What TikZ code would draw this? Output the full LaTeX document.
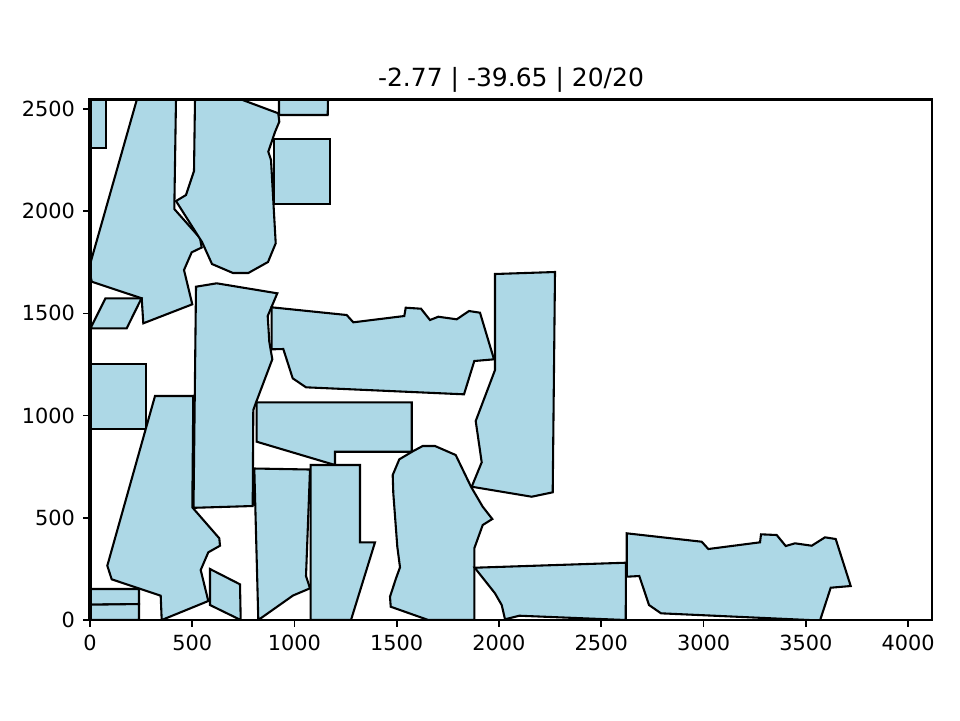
\documentclass[tikz,border=0pt]{standalone}
\usepackage{fontspec}
\setmainfont{DejaVu Sans}
\definecolor{lightblue}{RGB}{173,216,230}
\usepackage{tikz}
\usetikzlibrary{calc}

\begin{document}
\begin{tikzpicture}[
  x=0.48pt, y=-0.48pt,
  piece/.style={draw=black, fill=lightblue, line width=1pt, line join=miter},
  spine/.style={draw=black, line width=0.8pt},
  edge/.style={draw=black, line width=1.6pt},
  tick/.style={draw=black, line width=0.8pt},
  ticklbl/.style={font=\fontsize{10}{12}\selectfont, inner sep=0pt},
]

\useasboundingbox (0,0) rectangle (960,720);

% --- Pieces placed in the sheet ---
\begin{scope}
\clip (90,99) rectangle (932,620);
\path[piece] (90,99) -- (106,99) -- (106,148) -- (90,148) -- cycle;
\path[piece] (137,99) -- (176,99) -- (174.3,209) -- (200,238) -- (201.7,247.5) -- (191.7,252.3)
  -- (184,270) -- (192.3,304.3) -- (143.3,323.3) -- (141.7,298.3) -- (91.7,281.7) -- (89,268) -- cycle;
\path[piece] (105.5,298.3) -- (141.5,298.3) -- (126.7,328.3) -- (90.5,328.3) -- cycle;
\path[piece] (195,99) -- (240,99) -- (278.3,113.3) -- (279.3,121.7) -- (275,132) -- (268.3,151.7)
  -- (271,160) -- (275.7,243.3) -- (268,262) -- (248.3,273) -- (233,273) -- (212,264)
  -- (202,242) -- (176,201) -- (186,195) -- (194,171) -- cycle;
\path[piece] (279,99) -- (328,99) -- (327.7,115) -- (279,115) -- cycle;
\path[piece] (274,139) -- (330,139) -- (330,203.7) -- (274,203.7) -- cycle;
\path[piece] (90,364.3) -- (145.7,364.3) -- (145.7,429) -- (90,429) -- cycle;
\path[piece] (196,286.7) -- (216.7,283.3) -- (277.3,293.3) -- (267.7,316) -- (269.3,341.7)
  -- (272.3,359.3) -- (255.7,403.3) -- (253.3,410) -- (252.7,506) -- (193.5,507.8) -- cycle;
\path[piece] (271.7,307.3) -- (346.7,315) -- (353.3,322.3) -- (404.3,316) -- (405.7,307.7)
  -- (421,308.7) -- (430,320) -- (438.3,316.7) -- (456.7,319.3) -- (469,311) -- (480,312.7)
  -- (494,359.3) -- (474.3,361) -- (464,394.3) -- (306,387.3) -- (292.7,378.3) -- (283.3,349)
  -- (271.7,349.3) -- cycle;
\path[piece] (495,274) -- (555,272) -- (552.7,492.3) -- (531.7,496.7) -- (471.7,486.7)
  -- (481.7,462.3) -- (475.7,421) -- (495,370) -- cycle;
\path[piece] (256.7,402.3) -- (411.7,402.3) -- (411.7,451.7) -- (335,451.7) -- (335,465)
  -- (256.7,441.7) -- cycle;
\path[piece] (155,396) -- (193.3,396) -- (192.3,507.3) -- (219.3,538.3) -- (220,545.7)
  -- (208.3,552.3) -- (200.7,570) -- (208.3,601) -- (161.7,620) -- (160.7,595.7)
  -- (111.7,579.3) -- (107.3,565.7) -- cycle;
\path[piece] (210,569) -- (240,584.3) -- (240.7,620) -- (210,605) -- cycle;
\path[piece] (90,589) -- (139,589) -- (139,604) -- (90,604.7) -- cycle;
\path[piece] (90,604.7) -- (139,604) -- (139,620) -- (90,620) -- cycle;
\path[piece] (254.3,468.5) -- (310,469.5) -- (306,576) -- (310,588.3) -- (293,595.5) -- (258.3,620) -- cycle;
\path[piece] (310.7,465) -- (360,465) -- (360,542.3) -- (375,542.3) -- (351,620) -- (310.7,620) -- cycle;
\path[piece] (422.7,446) -- (435,446) -- (455.7,455) -- (471,486.7) -- (482.7,506.7)
  -- (492.3,519) -- (482.7,525) -- (474.3,548.3) -- (474.3,620) -- (428.3,620) -- (390.7,606.7)
  -- (390,596.7) -- (396,578.3) -- (400,567.3) -- (397.3,546.7) -- (393.3,493.3) -- (392.7,475)
  -- (399.3,459.3) -- (413.3,451) -- cycle;
\path[piece] (474.7,567.7) -- (626,562.7) -- (625.7,620) -- (519.3,615.7) -- (505,619.3)
  -- (501.7,605) -- (495,593.3) -- cycle;
\path[piece] (626.7,533.3) -- (701.7,541.7) -- (708.3,549) -- (760,542.3) -- (761,534.3)
  -- (776.7,535) -- (785.7,546) -- (795,543.3) -- (811.7,545.7) -- (825,537.3) -- (835.7,539)
  -- (850.7,586) -- (830.7,587.7) -- (820,620.5) -- (661,613.3) -- (649,605) -- (639.3,576)
  -- (626.7,576.7) -- cycle;
\end{scope}

% --- Frame of the sheet ---
\path[spine] (90,99) rectangle (932,620);
\path[edge] (90,620) -- (90,99.5) -- (932,99.5);

% --- Ticks and labels ---
\foreach \v in {0,500,...,4000} {
  \pgfmathsetmacro{\px}{90+\v*0.2045}
  \draw[tick] (\px,620) -- (\px,627.3);
  \node[ticklbl, anchor=north] at (\px,634.6) {\v};
}
\foreach \v in {0,500,...,2500} {
  \pgfmathsetmacro{\py}{620-\v*0.2044}
  \draw[tick] (90,\py) -- (82.7,\py);
  \node[ticklbl, anchor=east] at (75.4,\py) {\v};
}

% --- Title ---
\node[font=\fontsize{12}{14}\selectfont, inner sep=0pt, anchor=base] (title) at (511,86.5)
  {-2.77 | -39.65 | 20/20};

\end{tikzpicture}
\end{document}
